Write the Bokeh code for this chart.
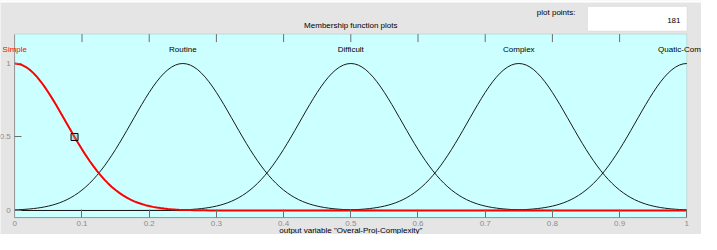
import numpy as np
from bokeh.plotting import figure
from bokeh.models import Label, BoxAnnotation, LinearAxis, FixedTicker, Range1d
from bokeh.embed import file_html
from bokeh.resources import INLINE

# ---- data ----
mf_names = ["Simple", "Routine", "Difficult", "Complex", "Quatic-Complex"]
mf_centers = [0.0, 0.25, 0.5, 0.75, 1.0]
mf_sigmas = [0.0755, 0.0755, 0.0755, 0.0755, 0.0755]
selected_mf = 0
plot_points = 181
marker_index = 16
x_ticks = [0, 0.1, 0.2, 0.3, 0.4, 0.5, 0.6, 0.7, 0.8, 0.9, 1]
x_tick_labels = ["0", "0.1", "0.2", "0.3", "0.4", "0.5", "0.6", "0.7", "0.8", "0.9", "1"]
y_ticks = [0, 0.5, 1]
y_tick_labels = ["0", "0.5", "1"]
top_ticks = [0.1, 0.2, 0.3, 0.4, 0.5, 0.6, 0.7, 0.8, 0.9]
title_text = "Membership function plots"
x_label_text = 'output variable "Overal-Proj-Complexity"'

FONT = "Liberation Sans"
GRAY_BG = "#e5e5e5"
AX_GRAY = "#8c8c8c"
BOX_LINE = "#9a9a9a"
TICK_COL = "#6e6e6e"

# axes box limits (data units)
XMIN, XMAX = 0.0, 1.0
YMIN, YMAX = -0.05, 1.2

xs = np.linspace(XMIN, XMAX, plot_points)

# whole canvas is the frame; the axes box is drawn inside it
p = figure(width=701, height=234,
           x_range=Range1d(-0.02128, 1.02188), y_range=Range1d(-0.1633, 1.4286),
           x_axis_type=None, y_axis_type=None,
           output_backend="svg", toolbar_location=None)
p.min_border_left = 0
p.min_border_right = 0
p.min_border_top = 0
p.min_border_bottom = 0
p.border_fill_color = GRAY_BG
p.background_fill_color = GRAY_BG
p.outline_line_color = None

# white strip at very top of the page
p.add_layout(BoxAnnotation(left=-0.1, right=1.1, bottom=1.415, top=1.5,
                           fill_color="white", fill_alpha=1, line_color=None, level="underlay"))

# cyan axes box
p.add_layout(BoxAnnotation(left=XMIN, right=XMAX, bottom=YMIN, top=YMAX,
                           fill_color="#ccffff", fill_alpha=1, line_color=BOX_LINE,
                           line_width=1, level="underlay"))

# bottom axis
xa = LinearAxis(fixed_location=YMIN, bounds=(XMIN, XMAX), ticker=FixedTicker(ticks=x_ticks))
xa.major_label_overrides = {t: l for t, l in zip(x_ticks, x_tick_labels)}
xa.major_tick_in = 8
xa.major_tick_out = 0
xa.minor_tick_line_color = None
xa.major_label_standoff = 3
xa.major_label_text_font_size = "8px"
xa.major_label_text_font = FONT
xa.major_label_text_color = AX_GRAY
xa.axis_line_color = BOX_LINE
xa.major_tick_line_color = TICK_COL
p.add_layout(xa, "below")

# left axis
ya = LinearAxis(fixed_location=XMIN, bounds=(YMIN, YMAX), ticker=FixedTicker(ticks=y_ticks))
ya.major_label_overrides = {t: l for t, l in zip(y_ticks, y_tick_labels)}
ya.major_tick_in = 7
ya.major_tick_out = 0
ya.minor_tick_line_color = None
ya.major_label_standoff = 4
ya.major_label_text_font_size = "8px"
ya.major_label_text_font = FONT
ya.major_label_text_color = AX_GRAY
ya.axis_line_color = BOX_LINE
ya.major_tick_line_color = TICK_COL
p.add_layout(ya, "left")

# top inward ticks
p.ray(x=top_ticks, y=[YMAX] * len(top_ticks), length=8, length_units="screen",
      angle=-np.pi / 2, line_color=TICK_COL, line_width=1)

# curves
curves = [np.exp(-((xs - c) ** 2) / (2 * s ** 2)) for c, s in zip(mf_centers, mf_sigmas)]
for i, ys in enumerate(curves):
    if i == selected_mf:
        continue
    p.line(xs, ys, line_color="#1a1a1a", line_width=1)
p.line(xs, curves[selected_mf], line_color="#ff0000", line_width=2)

p.scatter([xs[marker_index]], [curves[selected_mf][marker_index]], marker="square", size=7,
          line_color="black", line_width=1, fill_color="#7f9f9f", fill_alpha=0.35)

# MF names
for i, (name, c) in enumerate(zip(mf_names, mf_centers)):
    p.add_layout(Label(x=c, y=1.0973, text=name, text_align="center", text_baseline="middle",
                       text_font=FONT, text_font_size="8px",
                       text_color="#ff0000" if i == selected_mf else "#000000"))

# title
p.add_layout(Label(x=0.5, y=1.2605, text=title_text, text_align="center", text_baseline="middle",
                   text_font=FONT, text_font_size="8px", text_color="#000000"))

# plot points box
p.add_layout(BoxAnnotation(left=0.8522, right=1.0003, bottom=1.2211, top=1.3878,
                           fill_color="white", fill_alpha=1, line_color="#c8c8c8", line_width=1,
                           level="underlay"))
p.add_layout(Label(x=0.8344, y=1.3503, text="plot points:", text_align="right", text_baseline="middle",
                   text_font=FONT, text_font_size="8px", text_color="#000000"))
p.add_layout(Label(x=0.9906, y=1.2925, text=str(plot_points), text_align="right", text_baseline="middle",
                   text_font=FONT, text_font_size="8px", text_color="#000000"))

# x label
p.add_layout(Label(x=0.5, y=-0.139, text=x_label_text, text_align="center", text_baseline="middle",
                   text_font=FONT, text_font_size="8px", text_color="#000000"))

open("out.html", "w").write(file_html(p, INLINE))
